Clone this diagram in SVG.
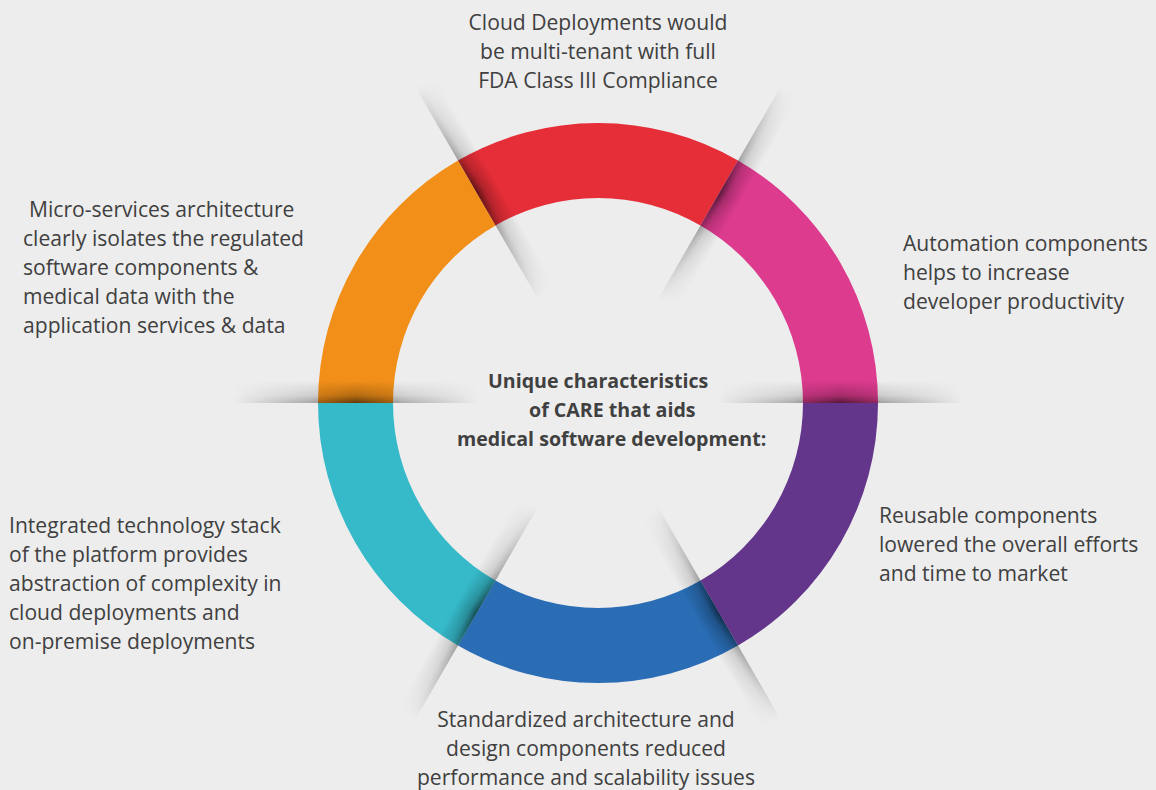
<svg xmlns="http://www.w3.org/2000/svg" width="1156" height="790" viewBox="0 0 1156 790">
<style>
  .lbl { font-family: "Open Sans", "Liberation Sans", sans-serif; font-size: 21.1px; fill: #404040; }
  .ctr { font-family: "Open Sans", "Liberation Sans", sans-serif; font-size: 19.6px; font-weight: bold; fill: #404040; }
</style>
<defs>
  <linearGradient id="perp" x1="0" y1="0" x2="0" y2="1">
    <stop offset="0" stop-color="#000" stop-opacity="0.6"/>
    <stop offset="0.35" stop-color="#000" stop-opacity="0.25"/>
    <stop offset="1" stop-color="#000" stop-opacity="0"/>
  </linearGradient>
  <linearGradient id="along" gradientUnits="userSpaceOnUse" x1="120" y1="0" x2="365" y2="0">
    <stop offset="0" stop-color="#fff" stop-opacity="0"/>
    <stop offset="0.3" stop-color="#fff" stop-opacity="0.45"/>
    <stop offset="0.5" stop-color="#fff" stop-opacity="1"/>
    <stop offset="0.68" stop-color="#fff" stop-opacity="0.5"/>
    <stop offset="1" stop-color="#fff" stop-opacity="0"/>
  </linearGradient>
  <mask id="mAlong" maskUnits="userSpaceOnUse" x="110" y="-40" width="270" height="80">
    <rect x="120" y="-40" width="245" height="80" fill="url(#along)"/>
  </mask>
  <g id="shadow">
    <rect x="120" y="0" width="245" height="22" fill="url(#perp)" mask="url(#mAlong)"/>
  </g>
</defs>
<rect width="1156" height="790" fill="#ededed"/>
<g id="ring">
  <path id="seg-red" d="M738,160.51 A280,280 0 0 0 458,160.51 L495.5,225.46 A205,205 0 0 1 700.5,225.46 Z" fill="#e52e38"/>
  <path id="seg-pink" d="M878,403 A280,280 0 0 0 738,160.51 L700.5,225.46 A205,205 0 0 1 803,403 Z" fill="#dc3b8e"/>
  <path id="seg-orange" d="M458,160.51 A280,280 0 0 0 318,403 L393,403 A205,205 0 0 1 495.5,225.46 Z" fill="#f18f19"/>
  <path id="seg-cyan" d="M318,403 A280,280 0 0 0 458,645.49 L495.5,580.54 A205,205 0 0 1 393,403 Z" fill="#36b9c9"/>
  <path id="seg-blue" d="M458,645.49 A280,280 0 0 0 738,645.49 L700.5,580.54 A205,205 0 0 1 495.5,580.54 Z" fill="#2a6db4"/>
  <path id="seg-purple" d="M738,645.49 A280,280 0 0 0 878,403 L803,403 A205,205 0 0 1 700.5,580.54 Z" fill="#63368b"/>
</g>
<g id="shadows">
  <use href="#shadow" transform="translate(598,403) rotate(-60)"/>
  <use href="#shadow" transform="translate(598,403) rotate(-120)"/>
  <use href="#shadow" transform="translate(598,403) rotate(-180)"/>
  <use href="#shadow" transform="translate(598,403) rotate(-240)"/>
  <use href="#shadow" transform="translate(598,403) rotate(-300)"/>
  <use href="#shadow" transform="translate(598,403) scale(1,-1)"/>
</g>
<g id="connectors"></g>
<g id="node-center">
  <text class="ctr" x="488" y="388">Unique characteristics</text>
  <text class="ctr" x="529" y="417">of CARE that aids</text>
  <text class="ctr" x="457" y="446">medical software development:</text>
</g>
<g id="node-top">
  <text class="lbl" text-anchor="middle" x="598" y="30">Cloud Deployments would</text>
  <text class="lbl" text-anchor="middle" x="598" y="59">be multi-tenant with full</text>
  <text class="lbl" text-anchor="middle" x="598" y="88">FDA Class III Compliance</text>
</g>
<g id="node-topright">
  <text class="lbl" x="903" y="251">Automation components</text>
  <text class="lbl" x="903" y="280">helps to increase</text>
  <text class="lbl" x="903" y="309">developer productivity</text>
</g>
<g id="node-bottomright">
  <text class="lbl" x="879" y="523">Reusable components</text>
  <text class="lbl" x="879" y="552">lowered the overall efforts</text>
  <text class="lbl" x="879" y="581">and time to market</text>
</g>
<g id="node-bottom">
  <text class="lbl" text-anchor="middle" x="586" y="727">Standardized architecture and</text>
  <text class="lbl" text-anchor="middle" x="586" y="756">design components reduced</text>
  <text class="lbl" text-anchor="middle" x="586" y="785">performance and scalability issues</text>
</g>
<g id="node-bottomleft">
  <text class="lbl" x="9" y="533">Integrated technology stack</text>
  <text class="lbl" x="9" y="562">of the platform provides</text>
  <text class="lbl" x="9" y="591">abstraction of complexity in</text>
  <text class="lbl" x="9" y="620">cloud deployments and</text>
  <text class="lbl" x="9" y="649">on-premise deployments</text>
</g>
<g id="node-topleft">
  <text class="lbl" x="29" y="217">Micro-services architecture</text>
  <text class="lbl" x="23" y="246">clearly isolates the regulated</text>
  <text class="lbl" x="23" y="275">software components &amp;</text>
  <text class="lbl" x="23" y="304">medical data with the</text>
  <text class="lbl" x="23" y="333">application services &amp; data</text>
</g>
</svg>
